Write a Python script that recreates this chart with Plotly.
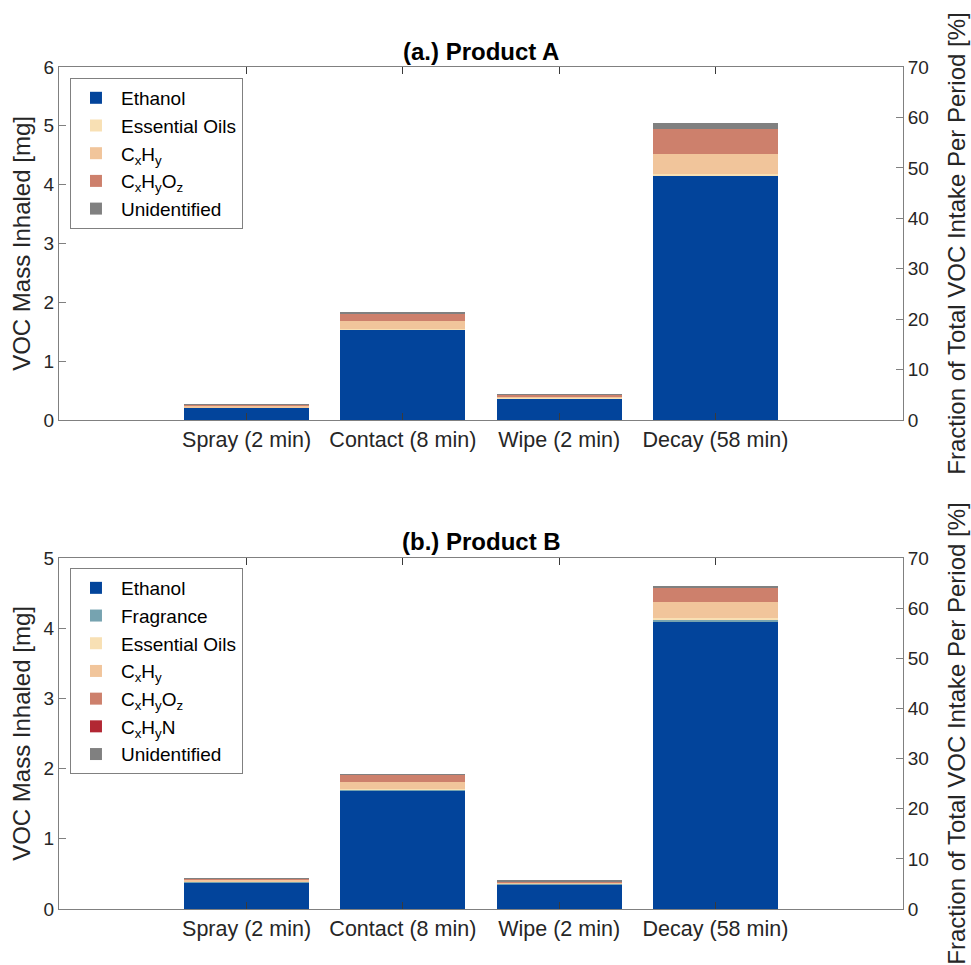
import plotly.graph_objects as go

periods = ["Spray (2 min)", "Contact (8 min)", "Wipe (2 min)", "Decay (58 min)"]
xpos = [1, 2, 3, 4]

# Product A [mg]
ethanol_a = [0.21, 1.54, 0.37, 4.16]
eo_a = [0.005, 0.01, 0.005, 0.02]
cxhy_a = [0.025, 0.14, 0.03, 0.34]
cxhyoz_a = [0.025, 0.12, 0.03, 0.42]
unid_a = [0.005, 0.02, 0.005, 0.10]

# Product B [mg]
ethanol_b = [0.38, 1.69, 0.355, 4.09]
frag_b = [0.005, 0.015, 0.005, 0.034]
eo_b = [0.003, 0.01, 0.003, 0.014]
cxhy_b = [0.03, 0.10, 0.02, 0.236]
cxhyoz_b = [0.02, 0.10, 0.015, 0.205]
cxhyn_b = [0.001, 0.002, 0.001, 0.003]
unid_b = [0.003, 0.005, 0.003, 0.023]

yticks_left_a = [0, 1, 2, 3, 4, 5, 6]
yticks_left_b = [0, 1, 2, 3, 4, 5]
yticks_right = [0, 10, 20, 30, 40, 50, 60, 70]

colors = {
    "Ethanol": "#02449b",
    "Fragrance": "#76a3b0",
    "Essential Oils": "#f8e0b4",
    "CxHy": "#f1c59b",
    "CxHyOz": "#cd806c",
    "CxHyN": "#b22733",
    "Unidentified": "#808080",
}
labels = {
    "Ethanol": "Ethanol",
    "Fragrance": "Fragrance",
    "Essential Oils": "Essential Oils",
    "CxHy": "C<sub>x</sub>H<sub>y</sub>",
    "CxHyOz": "C<sub>x</sub>H<sub>y</sub>O<sub>z</sub>",
    "CxHyN": "C<sub>x</sub>H<sub>y</sub>N",
    "Unidentified": "Unidentified",
}

FONT = "Liberation Sans, Arial, Helvetica, sans-serif"
TXT = "#262626"
LINE = "#808080"

fig = go.Figure()

series_a = [("Ethanol", ethanol_a), ("Essential Oils", eo_a), ("CxHy", cxhy_a),
            ("CxHyOz", cxhyoz_a), ("Unidentified", unid_a)]
series_b = [("Ethanol", ethanol_b), ("Fragrance", frag_b), ("Essential Oils", eo_b),
            ("CxHy", cxhy_b), ("CxHyOz", cxhyoz_b), ("CxHyN", cxhyn_b),
            ("Unidentified", unid_b)]

for key, vals in series_a:
    fig.add_trace(go.Bar(x=xpos, y=vals, name=labels[key], width=0.8,
                         marker=dict(color=colors[key], line=dict(width=0)),
                         xaxis="x", yaxis="y", legend="legend"))
for key, vals in series_b:
    fig.add_trace(go.Bar(x=xpos, y=vals, name=labels[key], width=0.8,
                         marker=dict(color=colors[key], line=dict(width=0)),
                         xaxis="x2", yaxis="y3", legend="legend2"))

# invisible traces to anchor right-hand axes
fig.add_trace(go.Scatter(x=[1], y=[0], mode="none", showlegend=False,
                         hoverinfo="skip", xaxis="x", yaxis="y2"))
fig.add_trace(go.Scatter(x=[1], y=[0], mode="none", showlegend=False,
                         hoverinfo="skip", xaxis="x2", yaxis="y4"))

domA = [0.5808, 1.0]
domB = [0.0, 0.4169]

xcommon = dict(range=[-0.2, 5.2], tickvals=xpos, ticktext=periods,
               showline=True, linecolor=LINE, linewidth=1, mirror="ticks",
               ticks="inside", ticklen=7, tickcolor="#3a3a3a",
               tickfont=dict(family=FONT, size=21.5, color=TXT),
               showgrid=False, zeroline=False, fixedrange=True, automargin=False)
ycommon = dict(showline=True, linecolor=LINE, linewidth=1,
               ticks="inside", ticklen=7, tickcolor=LINE,
               tickfont=dict(family=FONT, size=19, color=TXT),
               showgrid=False, zeroline=False, automargin=False)
title_font = dict(family=FONT, size=24, color=TXT)

fig.update_layout(
    width=971, height=965,
    margin=dict(l=59, r=68, t=67, b=56, autoexpand=False),
    paper_bgcolor="white", plot_bgcolor="white",
    barmode="stack",
    bargap=0.2,
    showlegend=True,
    xaxis=dict(**xcommon, domain=[0, 1], anchor="y"),
    xaxis2=dict(**xcommon, domain=[0, 1], anchor="y3"),
    yaxis=dict(**ycommon, domain=domA, range=[0, 6], tickvals=yticks_left_a,
               anchor="x", title=dict(text="VOC Mass Inhaled [mg]", font=title_font, standoff=6)),
    yaxis2=dict(**ycommon, overlaying="y", side="right", range=[0, 70],
                tickvals=yticks_right, anchor="x",
                title=dict(text="Fraction of Total VOC Intake Per Period [%]", font=title_font, standoff=20)),
    yaxis3=dict(**ycommon, domain=domB, range=[0, 5], tickvals=yticks_left_b,
                anchor="x2", title=dict(text="VOC Mass Inhaled [mg]", font=title_font, standoff=6)),
    yaxis4=dict(**ycommon, overlaying="y3", side="right", range=[0, 70],
                tickvals=yticks_right, anchor="x2",
                title=dict(text="Fraction of Total VOC Intake Per Period [%]", font=title_font, standoff=20)),
    legend=dict(x=0.013, y=0.987, xanchor="left", yanchor="top",
                bgcolor="white", bordercolor=LINE, borderwidth=1,
                font=dict(family=FONT, size=19, color="#000000"),
                traceorder="normal", tracegroupgap=0, itemwidth=40),
    legend2=dict(x=0.013, y=0.405, xanchor="left", yanchor="top",
                 bgcolor="white", bordercolor=LINE, borderwidth=1,
                 font=dict(family=FONT, size=19, color="#000000"),
                 traceorder="normal", tracegroupgap=0, itemwidth=40),
    annotations=[
        dict(text="<b>(a.) Product A</b>", xref="paper", yref="paper", x=0.5, y=1.019,
             xanchor="center", yanchor="middle", showarrow=False,
             font=dict(family=FONT, size=24, color="#000000")),
        dict(text="<b>(b.) Product B</b>", xref="paper", yref="paper", x=0.5, y=0.436,
             xanchor="center", yanchor="middle", showarrow=False,
             font=dict(family=FONT, size=24, color="#000000")),
    ],
)

fig.write_html("out.html", config={"displayModeBar": False},
               post_script="document.body.style.margin='0';document.body.style.overflow='hidden';")
